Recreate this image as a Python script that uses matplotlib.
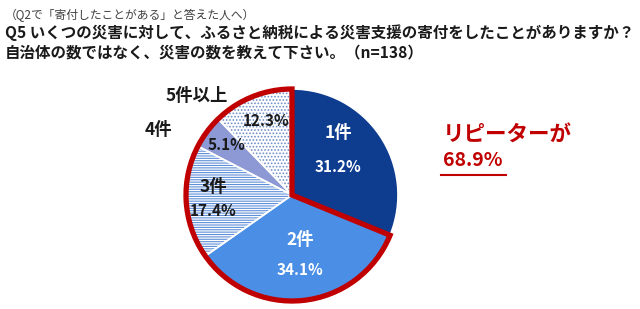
import matplotlib
matplotlib.use("Agg")
import matplotlib.pyplot as plt
import matplotlib.patches as patches

plt.rcParams['font.family'] = ['Noto Sans CJK JP', 'DejaVu Sans']
plt.rcParams['hatch.linewidth'] = 0.8

# data
categories = ["1件", "2件", "3件", "4件", "5件以上"]
shares = [31.2, 34.1, 17.4, 5.1, 12.3]
pct_labels = ["31.2%", "34.1%", "17.4%", "5.1%", "12.3%"]
repeat_share = 68.9

W, H = 640, 309
fig = plt.figure(figsize=(W / 100, H / 100), dpi=100)
ax = fig.add_axes([0, 0, 1, 1])

cx, cy, r = 292, H - 195, 106

fills = ["#0e3c8f", "#4a8ee6", "white", "#8c99d4", "white"]
hatch_col = ["#0e3c8f", "#4a8ee6", "#5f8fd8", "#8c99d4", "#6f8cc8"]
hatches = [None, None, "-------", None, "....."]

wedges, _ = ax.pie(shares, startangle=90, counterclock=False, center=(cx, cy),
                   radius=r, colors=fills, wedgeprops=dict(linewidth=0))
for w, hc, h in zip(wedges, hatch_col, hatches):
    w.set_edgecolor(hc)
    if h:
        w.set_hatch(h)
    # white separators drawn on top
    sep = patches.Wedge(w.center, w.r, w.theta1, w.theta2, fill=False,
                        edgecolor="white", linewidth=1.2)
    ax.add_patch(sep)

# red outline around the repeater slices (2件 and more)
t_end = 90 - 360 * shares[0] / 100
rep = patches.Wedge((cx, cy), r, 90, t_end + 360, fill=False,
                    edgecolor="#c00000", linewidth=3.8, joinstyle="miter")
ax.add_patch(rep)

ax.set_xlim(0, W)
ax.set_ylim(0, H)
ax.set_aspect("equal")
ax.axis("off")

# text inside / around the pie (pixel coordinates from the top)
lab_pos = [(338, 133), (300, 240), (213, 187), (158, 130), (197, 96)]
pct_pos = [(338, 167), (300, 270), (213, 211), (226, 145), (266, 121)]
lab_col = ["white", "white", "#1a1a1a", "#1a1a1a", "#1a1a1a"]
for name, lp, pt, pp, c in zip(categories, lab_pos, pct_labels, pct_pos, lab_col):
    ax.text(lp[0], H - lp[1], name, ha="center", va="center", fontsize=12.5,
            fontweight="bold", color=c)
    ax.text(pp[0], H - pp[1], pt, ha="center", va="center", fontsize=11,
            fontweight="bold", color=c)

ax.text(443, H - 135, "リピーターが", ha="left", va="center", fontsize=15.5,
        fontweight="bold", color="#c00000")
ax.text(443, H - 160, f"{repeat_share}%", ha="left", va="center", fontsize=14,
        fontweight="bold", color="#c00000")
ax.plot([441, 506], [H - 175, H - 175], color="#c00000", linewidth=1.5)

# title
ax.text(5, H - 15, "（Q2で「寄付したことがある」と答えた人へ）", ha="left", va="center",
        fontsize=8.5, color="#404040")
ax.text(5, H - 33, "Q5 いくつの災害に対して、ふるさと納税による災害支援の寄付をしたことがありますか？",
        ha="left", va="center", fontsize=11.2, fontweight="bold", color="#1a1a1a")
ax.text(5, H - 52, "自治体の数ではなく、災害の数を教えて下さい。（n=138）",
        ha="left", va="center", fontsize=11.2, fontweight="bold", color="#1a1a1a")

fig.savefig("out.png", dpi=100)
